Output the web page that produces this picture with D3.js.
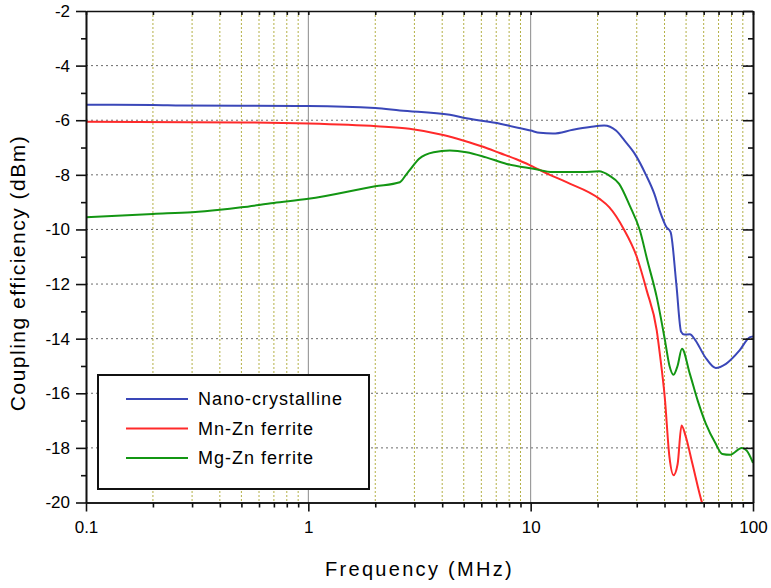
<!DOCTYPE html>
<html>
<head>
<meta charset="utf-8">
<script src="https://cdn.jsdelivr.net/npm/d3@7"></script>
<style>
  body { margin: 0; background: #fff; }
  text { font-family: Arial, "Liberation Sans", sans-serif; fill: #000; }
</style>
</head>
<body>
<svg id="chart" width="771" height="588"></svg>
<script>
// values
const freqNano = [0.1, 0.2, 0.27, 0.5, 1, 2, 2.58, 4.33, 5.14, 7.28, 10, 11, 12.6, 15.5, 18.5, 21.4, 24.2, 26.4, 29.5, 33, 36, 38, 40.7, 42.6, 45.2, 47.5, 49, 52, 55, 61, 68, 75.6, 87, 96.6, 100];
const nano = [-5.43, -5.44, -5.46, -5.47, -5.48, -5.55, -5.64, -5.8, -5.93, -6.13, -6.38, -6.46, -6.49, -6.35, -6.25, -6.19, -6.38, -6.74, -7.25, -8.0, -8.7, -9.3, -9.9, -10.1, -12.0, -13.75, -13.85, -13.84, -14.05, -14.68, -15.07, -14.92, -14.43, -13.95, -13.92];

const freqMnZn = [0.1, 0.5, 1, 2.03, 2.85, 4.04, 4.97, 6.11, 7.26, 8.63, 10, 12.2, 14.5, 20.4, 22.6, 26.2, 30, 33.3, 36.9, 38.1, 40.1, 42.1, 43.9, 45.8, 47.7, 49.9, 53.4, 59.2, 62];
const mnZn = [-6.06, -6.08, -6.12, -6.22, -6.31, -6.54, -6.74, -6.97, -7.2, -7.43, -7.66, -8.0, -8.27, -8.88, -9.19, -9.98, -11.0, -12.25, -13.7, -14.56, -16.15, -18.34, -19.0, -18.6, -17.18, -17.6, -18.58, -20.05, -20.5];

const freqMgZn = [0.1, 0.2, 0.3, 0.4, 0.5, 0.7, 1, 2, 2.58, 2.75, 2.85, 3.15, 3.66, 4.33, 5.14, 6.3, 7.8, 10.3, 12.6, 17.2, 20.3, 22.6, 25, 27.9, 31, 33.5, 36.9, 40.2, 42.1, 43.9, 45.8, 47.9, 52, 56.4, 61.4, 68, 72.7, 79, 89, 93.7, 100];
const mgZn = [-9.55, -9.43, -9.37, -9.28, -9.19, -9.03, -8.88, -8.42, -8.27, -8.0, -7.84, -7.41, -7.17, -7.11, -7.17, -7.36, -7.6, -7.78, -7.9, -7.9, -7.87, -8.03, -8.33, -9.13, -10.04, -11.14, -12.48, -14.07, -14.99, -15.32, -14.99, -14.37, -15.29, -16.27, -17.12, -17.85, -18.22, -18.25, -18.0, -18.1, -18.55];

const seriesNames = ["Nano-crystalline", "Mn-Zn ferrite", "Mg-Zn ferrite"];
const seriesColors = ["#3a47b8", "#ff2a2a", "#139613"];

const xMajor = [0.1, 1, 10, 100];
const xMinor = [2, 3, 4, 5, 6, 7, 8, 9].flatMap(m => [0.1 * m, m, 10 * m]);
const yMajor = [-20, -18, -16, -14, -12, -10, -8, -6, -4, -2];
const yMinor = [-19, -17, -15, -13, -11, -9, -7, -5, -3];

const svg = d3.select("#chart");
const plotL = 86, plotR = 753, plotT = 11, plotB = 502.5;

const x = d3.scaleLog().domain([0.1, 100]).range([plotL, plotR]);
const y = d3.scaleLinear().domain([-20, -2]).range([plotB, plotT]);

svg.append("defs").append("clipPath").attr("id", "plot")
    .append("rect").attr("x", plotL).attr("y", plotT)
    .attr("width", plotR - plotL).attr("height", plotB - plotT);

// grid
const grid = svg.append("g");
grid.selectAll(".hg").data(yMajor.slice(1, -1)).enter().append("line")
    .attr("x1", plotL).attr("x2", plotR)
    .attr("y1", d => y(d)).attr("y2", d => y(d))
    .style("stroke", "#6a6a6a").style("stroke-width", 1).style("stroke-dasharray", "2,3");
grid.selectAll(".vm").data(xMinor).enter().append("line")
    .attr("x1", d => x(d)).attr("x2", d => x(d))
    .attr("y1", plotT).attr("y2", plotB)
    .style("stroke", "#b4b046").style("stroke-width", 1).style("stroke-dasharray", "2,2");
grid.selectAll(".vM").data([1, 10]).enter().append("line")
    .attr("x1", d => x(d)).attr("x2", d => x(d))
    .attr("y1", plotT).attr("y2", plotB)
    .style("stroke", "#8a8a8a").style("stroke-width", 1);

// curves
const data = [
    d3.zip(freqNano, nano),
    d3.zip(freqMnZn, mnZn),
    d3.zip(freqMgZn, mgZn)
];
const line = d3.line()
    .x(d => x(d[0])).y(d => y(d[1]))
    .curve(d3.curveMonotoneX);

svg.append("g").attr("clip-path", "url(#plot)")
    .selectAll("path").data(data).enter().append("path")
    .attr("d", line)
    .style("fill", "none")
    .style("stroke", (d, i) => seriesColors[i])
    .style("stroke-width", 2);

// axes
function styleAxis(g) {
    g.select(".domain").style("stroke", "#111").style("stroke-width", 1.6);
    g.selectAll(".tick line").style("stroke", "#111").style("stroke-width", 1.6);
    g.selectAll("text").style("font-size", "17px").style("font-family", "Arial, 'Liberation Sans', sans-serif");
}

svg.append("g").attr("transform", `translate(0,${plotB})`)
    .call(d3.axisBottom(x).tickValues(xMinor).tickSize(5).tickFormat("").tickSizeOuter(0))
    .call(styleAxis);
svg.append("g").attr("transform", `translate(0,${plotB})`)
    .call(d3.axisBottom(x).tickValues(xMajor).tickSize(9).tickPadding(9)
        .tickFormat(d3.format("~g")).tickSizeOuter(0))
    .call(styleAxis);

svg.append("g").attr("transform", `translate(0,${plotT})`)
    .call(d3.axisBottom(x).tickValues(xMinor.concat(xMajor)).tickSize(4).tickFormat("").tickSizeOuter(0))
    .call(styleAxis);

svg.append("g").attr("transform", `translate(${plotL},0)`)
    .call(d3.axisLeft(y).tickValues(yMinor).tickSize(5).tickFormat("").tickSizeOuter(0))
    .call(styleAxis);
svg.append("g").attr("transform", `translate(${plotL},0)`)
    .call(d3.axisLeft(y).tickValues(yMajor).tickSize(10).tickPadding(6)
        .tickFormat(d => String(d)).tickSizeOuter(0))
    .call(styleAxis);

svg.append("g").attr("transform", `translate(${plotR},0)`)
    .call(d3.axisLeft(y).tickValues(yMinor).tickSize(5).tickFormat("").tickSizeOuter(0))
    .call(styleAxis);
svg.append("g").attr("transform", `translate(${plotR},0)`)
    .call(d3.axisLeft(y).tickValues(yMajor).tickSize(10).tickFormat("").tickSizeOuter(0))
    .call(styleAxis);

// axis titles
svg.append("text")
    .attr("x", (plotL + plotR) / 2).attr("y", 576)
    .attr("text-anchor", "middle")
    .style("font-size", "20px").style("letter-spacing", "2.3px")
    .text("Frequency (MHz)");

svg.append("text")
    .attr("transform", "translate(25,273) rotate(-90)")
    .attr("text-anchor", "middle")
    .style("font-size", "21px").style("letter-spacing", "1.5px")
    .text("Coupling efficiency (dBm)");

// legend
const legend = svg.append("g");
legend.append("rect")
    .attr("x", 98).attr("y", 375).attr("width", 271).attr("height", 114)
    .style("fill", "#fff").style("stroke", "#111").style("stroke-width", 2);
const rows = legend.selectAll(".row").data(seriesNames).enter().append("g")
    .attr("transform", (d, i) => `translate(0,${399 + i * 29.5})`);
rows.append("line")
    .attr("x1", 126).attr("x2", 188)
    .style("stroke", (d, i) => seriesColors[i]).style("stroke-width", 2);
rows.append("text")
    .attr("x", 198).attr("dy", "0.35em")
    .style("font-size", "18px").style("letter-spacing", "1px")
    .text(d => d);
</script>
</body>
</html>
